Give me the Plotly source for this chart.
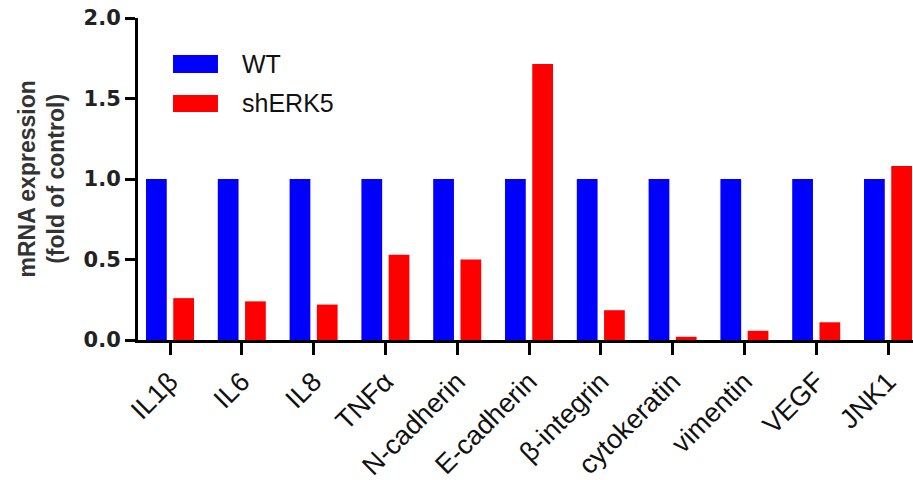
import plotly.graph_objects as go

# Gene targets and relative mRNA levels (fold of control)
genes = ["IL1β", "IL6", "IL8", "TNFα", "N-cadherin", "E-cadherin",
         "β-integrin", "cytokeratin", "vimentin", "VEGF", "JNK1"]
wt_values = [1.0, 1.0, 1.0, 1.0, 1.0, 1.0, 1.0, 1.0, 1.0, 1.0, 1.0]
sherk5_values = [0.26, 0.24, 0.22, 0.53, 0.50, 1.715, 0.185, 0.02, 0.057, 0.11, 1.08]

series_names = ["WT", "shERK5"]
series_colors = ["#0000FF", "#FF0000"]
y_ticks = [0.0, 0.5, 1.0, 1.5, 2.0]

fig = go.Figure()
for name, vals, col in zip(series_names, [wt_values, sherk5_values], series_colors):
    fig.add_trace(go.Bar(
        x=genes, y=vals, name=name, marker=dict(color=col, line=dict(width=0)),
        showlegend=False,
    ))

# Legend drawn as wide swatches with labels
legend_rows = [(0.885, 0.829, 0.857), (0.761, 0.708, 0.7345)]
for (y1, y0, yc), name, col in zip(legend_rows, series_names, series_colors):
    fig.add_shape(type="rect", xref="paper", yref="paper",
                  x0=0.0452, x1=0.1032, y0=y0, y1=y1,
                  fillcolor=col, line=dict(width=0))
    fig.add_annotation(xref="paper", yref="paper", x=0.1316, y=yc,
                       text=name, showarrow=False, xanchor="left", yanchor="middle",
                       font=dict(family="Liberation Sans, Arial", size=25, color="#111"))

# Y-axis title
fig.add_annotation(xref="paper", yref="paper", x=-0.1245, y=0.5,
                   text="mRNA expression<br>(fold of control)", showarrow=False,
                   textangle=-90, xanchor="center", yanchor="middle",
                   font=dict(family="Liberation Sans, Arial", size=23, color="#333",
                             weight="bold"))

fig.update_layout(
    width=913, height=480,
    margin=dict(l=138, r=0, t=18, b=140),
    paper_bgcolor="white", plot_bgcolor="white",
    bargap=0.241, bargroupgap=0.2385, barmode="group",
    xaxis=dict(
        type="category", range=[-0.4457, 10.348],
        showline=True, linecolor="black", linewidth=3,
        ticks="outside", ticklen=12, tickwidth=3, tickcolor="black",
        tickangle=-45, showgrid=False, zeroline=False,
        tickfont=dict(family="Liberation Sans, Arial", size=27, color="#111"),
    ),
    yaxis=dict(
        range=[0, 2], tickvals=y_ticks, ticktext=[f"{v:.1f}" for v in y_ticks],
        showline=True, linecolor="black", linewidth=3,
        ticks="outside", ticklen=10, tickwidth=3, tickcolor="black",
        showgrid=False, zeroline=False,
        tickfont=dict(family="DejaVu Sans", size=21, color="#222", weight="bold"),
    ),
)

fig.write_html("out.html")
